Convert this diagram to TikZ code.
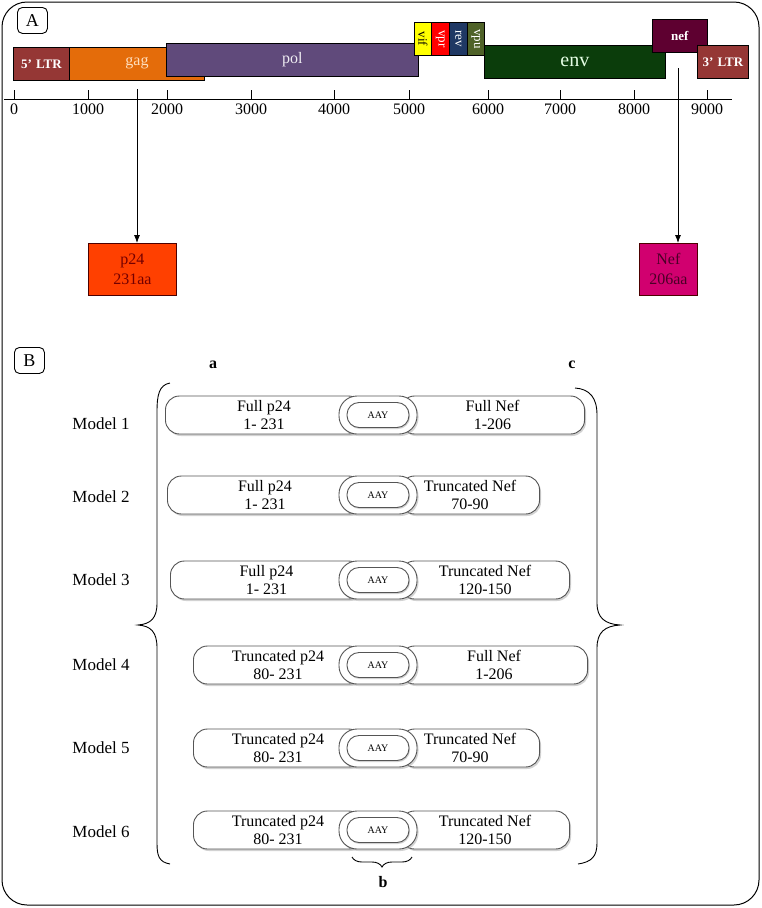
\documentclass[tikz,border=0pt]{standalone}
\usepackage{fontspec}
\setmainfont{Liberation Serif}
\usetikzlibrary{arrows.meta,shadows,decorations.pathreplacing}
\definecolor{ltrc}{HTML}{953735}
\definecolor{gagc}{HTML}{E46C0A}
\definecolor{polc}{HTML}{604A7B}
\definecolor{vifc}{HTML}{FFFF00}
\definecolor{vprc}{HTML}{FF0000}
\definecolor{revc}{HTML}{1F3864}
\definecolor{vpuc}{HTML}{4F6228}
\definecolor{envc}{HTML}{0B3D0B}
\definecolor{nefc}{HTML}{5E0030}
\definecolor{neftext}{HTML}{4A0026}
\definecolor{p24box}{HTML}{FF4000}
\definecolor{nefbox}{HTML}{D1006F}
\definecolor{segline}{HTML}{555555}
\tikzset{
  gene/.style={draw=black, line width=0.8pt, inner sep=0pt, anchor=north west},
  vtext/.style={rotate=-90, font=\fontsize{13}{13}\selectfont, inner sep=0pt},
  tick/.style={line width=0.8pt},
  ticklab/.style={font=\fontsize{16}{16}\selectfont, anchor=north, inner sep=0pt},
  protbox/.style={draw=black!70!red, line width=0.8pt, anchor=north west, inner sep=0pt,
     align=center, font=\fontsize{16}{20}\selectfont},
  panel/.style={draw, rounded corners=5pt, line width=0.9pt, minimum width=30pt,
     minimum height=26pt, inner sep=0pt, font=\fontsize{18}{18}\selectfont, anchor=north west},
  seg/.style={draw=segline, line width=0.9pt, fill=white, rounded corners=14pt, minimum height=38pt,
     inner sep=0pt, align=center, font=\fontsize{16}{18}\selectfont,
     drop shadow={shadow xshift=1.5pt, shadow yshift=-2pt, fill=black!35}},
  ring/.style={draw=segline, line width=0.9pt, fill=white, rounded corners=18pt,
     minimum width=78pt, minimum height=38pt, inner sep=0pt,
     drop shadow={shadow xshift=1.5pt, shadow yshift=-2pt, fill=black!35}},
  linker/.style={draw=segline, line width=0.9pt, fill=white, rounded corners=12pt,
     minimum width=62pt, minimum height=25pt, inner sep=0pt, font=\fontsize{10}{10}\selectfont,
     drop shadow={shadow xshift=1pt, shadow yshift=-1.5pt, fill=black!35}},
  modellab/.style={font=\fontsize{17}{17}\selectfont, inner sep=0pt},
  bracelab/.style={font=\bfseries\fontsize{16}{16}\selectfont, inner sep=0pt},
  bracepath/.style={line width=0.9pt},
  arr/.style={line width=0.8pt, -{Latex[length=8pt,width=6pt]}}
}
\begin{document}
\begin{tikzpicture}[x=1pt, y=-1pt]
\useasboundingbox (0,0) rectangle (761,908);
\draw[rounded corners=25pt, line width=1pt] (2,2) rectangle (759,905);

% Panel A
\node[panel] (pA) at (17,7) {A};

\node[gene, fill=ltrc, minimum width=56pt, minimum height=33pt, text=white,
      font=\bfseries\fontsize{13}{13}\selectfont] (ltr5) at (13,47) {5'\,\,LTR};
\node[gene, fill=gagc, minimum width=135pt, minimum height=33pt] (gag) at (69,47) {};
\node[text=orange!25, font=\fontsize{16}{16}\selectfont, inner sep=0pt] (gaglab) at (137,63) {gag};
\node[gene, fill=polc, minimum width=252pt, minimum height=33pt, text=white!90!polc,
      font=\fontsize{16}{16}\selectfont] (pol) at (166,43) {pol};
\node[gene, fill=vifc, minimum width=17pt, minimum height=33pt] (vif) at (414,22) {};
\node[vtext] at (vif.center) {vif};
\node[gene, fill=vprc, minimum width=18pt, minimum height=33pt] (vpr) at (431,22) {};
\node[vtext, text=white] at (vpr.center) {vpr};
\node[gene, fill=revc, minimum width=18pt, minimum height=33pt] (rev) at (449,22) {};
\node[vtext, text=white] at (rev.center) {rev};
\node[gene, fill=vpuc, minimum width=17pt, minimum height=33pt] (vpu) at (467,22) {};
\node[vtext, text=white] at (vpu.center) {vpu};
\node[gene, fill=envc, minimum width=181pt, minimum height=33pt, text=green!10,
      font=\fontsize{20}{20}\selectfont] (env) at (484,45) {env};
\node[gene, fill=nefc, minimum width=55pt, minimum height=33pt, text=white,
      font=\bfseries\fontsize{13}{13}\selectfont] (nef) at (652,19) {nef};
\node[gene, fill=ltrc, minimum width=51pt, minimum height=33pt, text=white,
      font=\bfseries\fontsize{13}{13}\selectfont] (ltr3) at (697,45) {3'\,\,LTR};

% axis
\coordinate (axL) at (4,99);
\coordinate (axR) at (732,99);
\draw[line width=0.9pt] (axL) -- (axR);
\foreach \xx/\lab in {14/0, 88/1000, 167/2000, 251/3000, 334/4000, 409/5000, 488/6000, 560/7000, 634/8000, 707/9000}{
  \draw[tick] (\xx,90) -- (\xx,99);
  \node[ticklab] at (\xx,104) {\lab};
}

% protein boxes
\node[protbox, fill=p24box, text=red!45!black, minimum width=88pt, minimum height=52pt] (p24) at (88,243) {p24\\231aa};
\node[protbox, fill=nefbox, text=neftext, minimum width=58pt, minimum height=52pt] (nefb) at (639,243) {Nef\\206aa};
\coordinate (gagpt) at (137,89);
\coordinate (nefpt) at (678,68);
\draw[arr] (gagpt) -- (gagpt |- p24.north);
\draw[arr] (nefpt) -- (nefpt |- nefb.north);

% Panel B
\node[panel] (pB) at (14,347) {B};
\node[bracelab] (la) at (213,365) {a};
\node[bracelab] (lc) at (572,365) {c};

\foreach \i/\yy/\my/\lx/\rx/\lt/\rt in {
  1/415/424/165/585/{Full p24\\1- 231}/{Full Nef\\1-206},
  2/495/497/167/540/{Full p24\\1- 231}/{Truncated Nef\\70-90},
  3/580/580/170/570/{Full p24\\1- 231}/{Truncated Nef\\120-150},
  4/665/665/193/588/{Truncated p24\\80- 231}/{Full Nef\\1-206},
  5/748/748/193/540/{Truncated p24\\80- 231}/{Truncated Nef\\70-90},
  6/830/832/193/570/{Truncated p24\\80- 231}/{Truncated Nef\\120-150}}{
  \node[modellab] (m\i) at (101,\my) {Model \i};
  \node[seg, anchor=west, minimum width={(362-\lx)*1pt}] (L\i) at (\lx,\yy) {\lt};
  \node[seg, anchor=east, minimum width={(\rx-401)*1pt}] (R\i) at (\rx,\yy) {\rt};
  \node[ring] (G\i) at (378,\yy) {};
  \node[linker] (K\i) at (378,\yy) {AAY};
}

% big braces
\draw[bracepath] (170,383) .. controls (159,385) and (157,395) .. (157,412)
  -- (157,603) .. controls (157,618) and (151,624) .. (138,625)
  .. controls (151,626) and (157,632) .. (157,648)
  -- (157,843) .. controls (157,856) and (159,862) .. (170,864);
\draw[bracepath] (575,388) .. controls (590,389) and (597,398) .. (597,415)
  -- (597,603) .. controls (597,618) and (605,624) .. (620,625)
  .. controls (605,626) and (597,632) .. (597,648)
  -- (597,843) .. controls (597,856) and (592,862) .. (578,864);
% bottom brace
\coordinate (bL) at (352,857);
\coordinate (bR) at (412,857);
\draw[bracepath, decorate, decoration={brace, mirror, amplitude=10pt}] (bL) -- (bR);
\node[bracelab] (lb) at (383,882) {b};
\end{tikzpicture}
\end{document}
